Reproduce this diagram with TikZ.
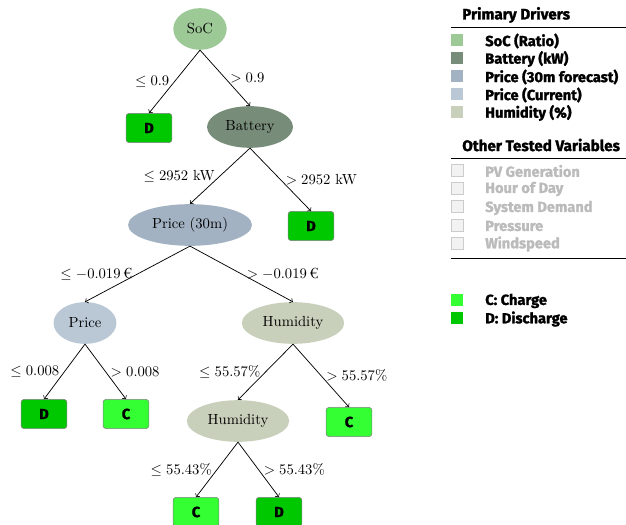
\documentclass[tikz,border=0pt]{standalone}
\usepackage{fontspec}
\newfontfamily\legendfont{Fira Sans}[BoldFeatures={FakeBold=1.6}]
\usetikzlibrary{shapes.geometric}

\definecolor{socgreen}{RGB}{157,201,151}
\definecolor{batterygreen}{RGB}{120,141,121}
\definecolor{pricefc}{RGB}{162,178,195}
\definecolor{pricecur}{RGB}{186,200,213}
\definecolor{humid}{RGB}{200,207,186}
\definecolor{charge}{RGB}{51,255,51}
\definecolor{discharge}{RGB}{0,200,0}
\definecolor{untested}{RGB}{187,187,187}

\begin{document}
\begin{tikzpicture}[x=0.024cm, y=-0.024cm,
        split/.style={ellipse,inner xsep=4pt,minimum height=1cm},
        leaf/.style={rectangle,rounded corners=2pt,draw=gray,minimum width=1.1cm,minimum height=0.7cm,font=\legendfont\bfseries},
        branch/.style={->,black,line width=0.5pt},
        cond/.style={midway},
        swatch/.style={rectangle,minimum size=0.29cm,inner sep=0pt},
        unused/.style={swatch,draw=gray!40,fill=gray!10},
        entry/.style={anchor=west,inner sep=0pt,font=\legendfont\bfseries\fontsize{10}{12}\selectfont},
        heading/.style={anchor=west,inner sep=0pt,font=\legendfont\bfseries\fontsize{10.4}{12}\selectfont}
    ]
        \useasboundingbox (0,0) rectangle (626,525);

        % Define the splits
        \node[split,fill=socgreen] (soc) at (200,29) {SoC};
        \node[split,fill=batterygreen] (battery) at (250,127) {Battery};
        \node[split,fill=pricefc] (price30) at (190,225) {Price (30m)};
        \node[split,fill=pricecur] (price) at (85,323) {Price};
        \node[split,fill=humid] (humidA) at (293,323) {Humidity};
        \node[split,fill=humid] (humidB) at (238,421) {Humidity};

        % Define the leaves
        \node[leaf,fill=discharge] (dA) at (149,128) {D};
        \node[leaf,fill=discharge] (dB) at (311,226) {D};
        \node[leaf,fill=discharge] (dC) at (44,414) {D};
        \node[leaf,fill=charge] (cA) at (126,414) {C};
        \node[leaf,fill=charge] (cB) at (349,422) {C};
        \node[leaf,fill=charge] (cC) at (196,512) {C};
        \node[leaf,fill=discharge] (dD) at (279,512) {D};

        % Branches with thresholds
        \draw[branch] (soc.south) -- node[cond,left] {$\leq 0.9$} (dA.north);
        \draw[branch] (soc.south) -- node[cond,right] {$> 0.9$} (battery.north);
        \draw[branch] (battery.south) -- node[cond,left] {$\leq 2952$ kW} (price30.north);
        \draw[branch] (battery.south) -- node[cond,right] {$> 2952$ kW} (dB.north);
        \draw[branch] (price30.south) -- node[cond,left] {$\leq -0.019$\,€} (price.north);
        \draw[branch] (price30.south) -- node[cond,right] {$> -0.019$\,€} (humidA.north);
        \draw[branch] (price.south) -- node[cond,left] {$\leq 0.008$} (dC.north);
        \draw[branch] (price.south) -- node[cond,right] {$> 0.008$} (cA.north);
        \draw[branch] (humidA.south) -- node[cond,left] {$\leq 55.57\%$} (humidB.north);
        \draw[branch] (humidA.south) -- node[cond,right] {$> 55.57\%$} (cB.north);
        \draw[branch] (humidB.south) -- node[cond,left] {$\leq 55.43\%$} (cC.north);
        \draw[branch] (humidB.south) -- node[cond,right] {$> 55.43\%$} (dD.north);

        % Legend: primary drivers
        \node[heading] (primaryhead) at (462,15) {Primary Drivers};
        \draw[thin] (451,27) -- (626,27);
        \node[swatch,fill=socgreen] (sw1) at (457,40) {};
        \node[entry] (en1) at (485,41) {SoC (Ratio)};
        \node[swatch,fill=batterygreen] (sw2) at (457,58) {};
        \node[entry] (en2) at (485,59) {Battery (kW)};
        \node[swatch,fill=pricefc] (sw3) at (457,76) {};
        \node[entry] (en3) at (485,77) {Price (30m forecast)};
        \node[swatch,fill=pricecur] (sw4) at (457,94) {};
        \node[entry] (en4) at (485,95) {Price (Current)};
        \node[swatch,fill=humid] (sw5) at (457,112) {};
        \node[entry] (en5) at (485,113) {Humidity (\%)};

        % Legend: other tested variables
        \node[heading] (otherhead) at (462,145) {Other Tested Variables};
        \draw[thin] (451,158) -- (626,158);
        \node[unused] (sw6) at (457,170) {};
        \node[entry,text=untested] (en6) at (485,171) {PV Generation};
        \node[unused] (sw7) at (457,188) {};
        \node[entry,text=untested] (en7) at (485,189) {Hour of Day};
        \node[unused] (sw8) at (457,206) {};
        \node[entry,text=untested] (en8) at (485,208) {System Demand};
        \node[unused] (sw9) at (457,225) {};
        \node[entry,text=untested] (en9) at (485,226) {Pressure};
        \node[unused] (sw10) at (457,243) {};
        \node[entry,text=untested] (en10) at (485,244) {Windspeed};
        \draw[thin] (451,258) -- (626,258);

        % Legend: actions
        \node[swatch,fill=charge] (sw11) at (457,300) {};
        \node[entry] (en11) at (485,301) {C: Charge};
        \node[swatch,fill=discharge] (sw12) at (457,318) {};
        \node[entry] (en12) at (485,319) {D: Discharge};
    \end{tikzpicture}
\end{document}
